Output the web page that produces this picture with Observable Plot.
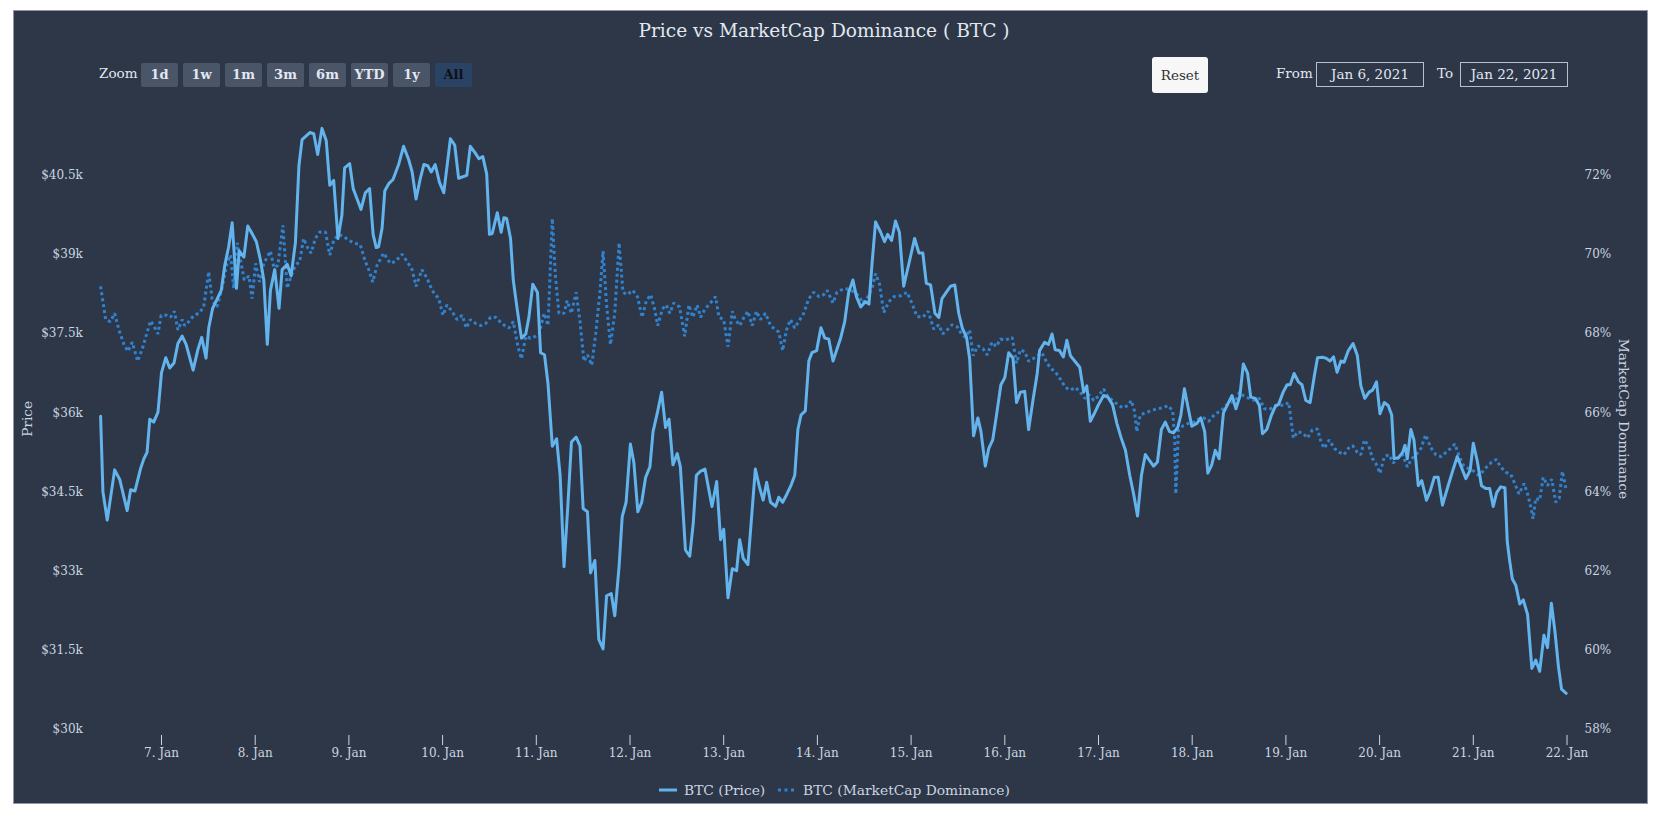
<!DOCTYPE html>
<html>
<head>
<meta charset="utf-8">
<script src="https://cdn.jsdelivr.net/npm/d3@7"></script>
<script src="https://cdn.jsdelivr.net/npm/@observablehq/plot@0.6"></script>
<style>
  html, body { margin: 0; padding: 0; background: #ffffff; }
  body { width: 1667px; height: 819px; position: relative; overflow: hidden; font-family: "DejaVu Serif", serif; }
  #panel { position: absolute; left: 14px; top: 11px; width: 1633px; height: 792px; background: #2d3748; box-shadow: 0 0 0 1px #8f98a8; }
  #title { position: absolute; left: 0; width: 1620px; top: 8px; text-align: center; font-size: 18.6px; color: #e2e8f0; line-height: 24px; }
  .lbl { position: absolute; color: #e2e8f0; font-size: 13.5px; line-height: 24px; }
  .btn { position: absolute; top: 52px; width: 37px; height: 24px; background: #4a5568; color: #e2e8f0; font-weight: bold; font-size: 13px; line-height: 24px; text-align: center; border-radius: 2px; }
  .btn.sel { background: #2a4365; color: #0d1117; }
  #reset { position: absolute; left: 1138px; top: 46px; width: 56px; height: 36px; background: #f7f7f7; border-radius: 3px; color: #333; font-size: 13.5px; line-height: 36px; text-align: center; }
  .box { position: absolute; top: 51px; width: 106px; height: 23px; border: 1px solid #b8bfca; color: #e2e8f0; font-size: 13.5px; line-height: 23px; text-align: center; }
  #chart { position: absolute; left: 0; top: 89px; }
  #legend { position: absolute; top: 767px; left: 0; width: 1633px; height: 24px; }
  .leg { position: absolute; top: 0; color: #cbd5e0; font-size: 13.8px; line-height: 24px; white-space: nowrap; }
</style>
</head>
<body>
<div id="panel">
  <div id="title">Price vs MarketCap Dominance ( BTC )</div>
  <div class="lbl" style="left:85px; top:50px;">Zoom</div>
  <div id="buttons"></div>
  <div id="reset">Reset</div>
  <div class="lbl" style="left:1262px; top:50px;">From</div>
  <div class="box" style="left:1302px;">Jan 6, 2021</div>
  <div class="lbl" style="left:1423px; top:50px;">To</div>
  <div class="box" style="left:1446px;">Jan 22, 2021</div>
  <div id="chart"></div>
  <div id="legend"></div>
</div>
<script>
// ---------------- data (hours since 6 Jan 2021 00:00 UTC) ----------------
const priceHours = [8.4,9.0,10.1,12.0,13.3,15.2,16.1,17.2,18.6,19.5,20.3,21.0,22.0,23.1,24.0,25.1,26.1,27.2,28.2,29.3,30.3,32.1,33.3,34.3,35.4,36.1,37.1,38.3,39.3,40.2,41.2,42.1,43.2,43.9,45.1,46.1,47.3,48.3,49.3,50.2,51.1,51.9,53.0,54.1,54.9,56.2,57.2,58.3,59.2,60.0,62.0,63.0,64.0,65.1,66.2,67.1,68.1,69.2,70.2,70.9,72.2,73.1,74.1,75.1,76.2,77.3,78.2,79.0,79.6,80.5,81.2,82.2,83.3,84.8,86.0,87.3,88.2,89.2,90.3,91.2,92.2,93.1,94.1,95.2,96.3,98.0,99.1,100.1,102.2,103.1,
104.2,105.3,106.3,107.3,108.0,108.7,110.0,111.0,111.7,112.4,113.4,114.1,115.1,116.2,117.3,118.1,119.1,120.3,121.1,122.1,123.0,124.1,125.2,126.1,127.1,128.1,129.0,130.2,131.2,132.0,133.1,133.9,135.0,136.0,137.1,138.0,139.2,140.1,141.2,142.0,143.0,144.1,145.0,146.0,147.0,148.0,149.1,149.9,151.0,152.1,153.1,154.0,155.0,156.1,156.9,158.2,159.3,160.2,161.0,162.1,163.2,164.2,165.0,166.2,167.2,168.0,169.1,170.2,171.3,172.1,173.0,174.2,176.1,177.2,178.1,179.0,180.0,181.3,182.1,183.1,184.2,185.3,186.2,187.0,187.8,188.9,189.8,190.6,191.8,192.9,193.9,194.9,196.0,197.9,
199.0,200.0,201.1,202.0,203.1,204.3,205.2,206.0,206.9,208.2,209.2,210.0,211.0,212.0,213.0,214.1,215.4,216.9,218.0,219.0,219.9,221.0,222.1,223.1,223.9,225.0,226.1,227.2,228.2,229.1,230.2,231.0,232.0,233.1,233.9,235.0,235.9,236.9,237.8,239.0,240.0,241.0,242.1,243.0,244.0,245.1,246.1,247.2,248.3,248.9,250.2,251.2,252.1,252.9,254.0,255.0,255.9,256.8,257.9,259.2,260.2,261.0,261.9,263.0,264.0,265.3,266.4,267.6,268.7,269.8,270.9,272.0,273.0,274.0,275.0,276.0,277.1,278.1,279.1,280.1,281.1,282.2,283.2,284.3,285.1,286.0,286.9,287.9,289.2,290.2,291.2,292.0,293.0,293.9,
294.9,296.0,297.3,298.2,299.2,300.2,301.1,302.2,303.0,304.2,305.2,306.0,307.1,308.3,309.4,310.1,311.3,312.3,313.1,314.1,315.2,316.1,317.1,318.2,319.3,320.1,321.4,322.2,323.3,324.2,325.1,326.1,326.9,328.0,329.2,330.3,331.2,332.2,333.3,334.2,335.2,336.1,337.2,338.2,339.1,339.7,340.8,341.9,342.5,343.1,344.0,344.8,345.9,346.8,348.0,348.9,350.0,351.0,352.1,353.4,354.7,355.9,357.0,358.1,359.2,360.0,361.0,362.1,363.2,364.2,365.1,366.0,367.0,368.1,368.7,369.3,370.0,370.9,371.9,372.8,373.9,375.0,376.0,377.0,378.1,379.0,380.0,380.9,381.8,382.6,383.8];
const priceValues = [35932,34500,33965,34917,34736,34146,34540,34516,34933,35130,35248,35877,35822,36011,36758,37042,36845,36940,37309,37451,37294,36806,37191,37427,37034,37608,37978,38159,38316,38788,39142,39599,38356,39064,38946,39536,39378,39237,38906,38513,37294,38316,38710,37978,38710,38812,38592,39221,40677,41172,41306,41283,40889,41385,41149,40307,40401,39300,39733,40637,40716,40244,40047,39851,40165,40244,39378,39127,39142,39496,40205,40338,40417,40716,41046,40795,40559,40047,40440,40700,40677,40559,40700,40362,40165,41188,41070,40440,40496,41046,
40936,40810,40850,40519,39378,39394,39787,39418,39693,39677,39300,38513,37962,37412,37490,37805,38434,38277,37136,37097,36546,35366,35507,34815,33084,34264,35444,35539,35366,34186,34123,32966,33202,31707,31526,32533,32573,32156,33084,34028,34304,35405,35051,34123,34304,34776,34973,35641,35995,36389,35720,35877,35012,35224,34973,33399,33281,33910,34815,34894,34933,34540,34225,34697,33595,33792,32494,33045,33006,33595,33241,33124,34933,34579,34343,34682,34304,34225,34398,34304,34461,34634,34815,35681,35956,36035,36979,37136,37176,37608,37412,37396,36979,37400,
37726,38277,38513,38198,38002,38104,38057,38828,39614,39418,39237,39378,39260,39630,39418,38395,38812,39300,39025,39025,38450,38419,37883,37805,38159,38277,38395,38419,37883,37608,37427,37018,35562,35901,35641,34988,35326,35484,35916,36530,36664,37136,37034,36192,36389,36404,35681,36231,36743,37176,37333,37294,37490,37191,37176,37057,37372,37081,36979,36861,36389,36507,35838,35995,36153,36326,36294,36153,35798,35523,35287,34815,34461,34044,34815,35208,35090,34988,35067,35681,35822,35641,35618,35720,35956,36452,36113,35744,35798,35901,35641,34854,35012,35287,
35130,35995,36192,36326,36074,36310,36924,36743,36294,36271,36137,35602,35681,35956,36137,36153,36389,36530,36530,36743,36585,36530,36231,36192,36703,37042,37050,37034,36979,37057,36766,36979,36955,37176,37309,37081,36507,36271,36389,36428,36585,35980,36192,36137,35956,35130,35146,35248,35382,35130,35681,35484,34618,34713,34343,34500,34776,34776,34249,34579,34894,35169,34957,34752,34910,35421,35090,34618,34563,34563,34225,34485,34595,34579,33556,33202,32848,32730,32376,32455,32179,31157,31314,31101,31786,31550,32392,31865,31196,30763,30685];

const domHours = [8.4,9.7,10.9,12.0,13.1,14.4,15.4,16.5,17.9,19.1,20.2,21.2,22.0,23.1,23.9,25.3,26.3,27.3,28.2,29.3,29.9,31.0,32.3,33.6,34.8,36.1,37.0,38.2,39.5,40.8,41.7,42.5,43.4,44.2,45.2,46.4,47.2,48.1,49.1,50.2,51.9,52.8,53.8,55.1,56.2,57.2,58.3,59.4,60.4,61.3,62.3,63.4,64.5,66.0,67.1,68.1,69.4,70.7,72.0,73.2,74.9,76.2,77.1,78.1,79.2,80.9,82.6,83.9,85.6,86.9,88.2,89.2,90.7,92.0,93.3,95.0,96.1,97.1,98.4,99.7,101.0,102.1,103.1,
104.5,105.8,107.0,108.3,109.6,110.7,111.9,113.0,114.1,115.3,116.2,117.3,118.5,119.8,120.7,122.0,123.0,124.1,124.9,125.8,127.1,127.9,129.0,130.2,131.2,132.2,133.1,134.2,135.2,136.3,137.1,138.0,139.0,140.1,141.2,142.2,143.3,144.7,145.9,147.1,148.2,149.3,150.3,151.1,152.3,153.3,154.2,155.2,156.7,158.0,159.1,160.1,161.2,162.1,163.2,164.2,165.9,166.8,168.0,169.1,170.2,171.0,172.1,173.2,174.2,175.3,176.4,177.4,178.7,180.0,181.3,182.1,183.1,184.1,185.1,186.2,187.2,188.5,189.8,191.1,192.4,193.6,194.5,196.0,197.0,197.9,
199.2,200.5,201.6,202.8,203.5,204.7,206.0,206.9,207.9,209.0,210.3,211.6,213.3,215.0,216.3,217.5,219.0,220.4,221.8,223.1,224.1,225.2,226.5,227.8,228.9,229.9,231.0,231.9,233.1,234.4,235.5,236.7,237.8,238.9,240.1,241.9,243.0,244.0,245.1,246.1,247.2,248.4,249.5,250.6,251.7,252.9,254.2,255.5,256.8,258.1,259.3,260.5,261.5,262.8,264.1,265.3,266.4,267.6,269.0,270.2,271.5,272.4,273.2,273.8,274.7,276.0,277.5,279.0,280.4,281.8,283.0,283.5,283.8,284.5,285.8,287.1,288.4,289.6,290.9,292.2,293.9,
295.4,296.6,297.9,299.2,300.1,301.3,302.6,303.9,305.2,306.5,307.7,309.0,310.3,311.6,312.7,313.3,313.9,315.0,316.3,317.5,318.8,320.1,321.0,321.8,323.1,324.4,325.7,326.9,328.0,329.1,330.3,331.2,332.1,333.2,334.2,335.0,336.1,337.2,338.4,339.5,340.6,341.9,343.1,344.2,345.3,346.6,347.8,349.1,350.4,351.7,353.0,354.2,355.3,356.4,357.6,358.9,360.2,361.3,362.5,363.6,364.7,365.9,367.0,368.3,369.6,370.4,371.7,373.0,373.9,374.7,375.3,376.0,377.0,377.9,379.0,380.1,381.1,382.0,382.8,383.7];
const domValues = [69.19,68.35,68.30,68.51,68.09,67.72,67.55,67.78,67.30,67.62,67.99,68.32,68.20,67.99,68.46,68.46,68.41,68.56,68.09,68.35,68.20,68.30,68.46,68.51,68.67,69.56,68.83,68.67,69.14,69.77,69.98,69.14,70.29,69.87,69.35,69.45,68.88,69.77,69.30,69.77,70.08,69.66,69.72,70.73,69.14,69.45,69.72,69.82,70.40,70.19,70.03,70.40,70.56,70.56,69.98,70.35,70.50,70.45,70.35,70.29,70.24,69.82,69.61,69.30,69.72,70.03,69.77,69.82,70.00,69.82,69.61,69.19,69.61,69.40,69.09,68.88,68.46,68.72,68.56,68.35,68.46,68.14,68.35,
68.25,68.20,68.25,68.41,68.41,68.30,68.20,68.14,68.30,67.67,67.36,67.93,67.88,67.93,67.99,68.51,68.20,70.90,69.45,68.51,68.51,68.83,68.51,69.04,68.30,67.30,67.46,67.20,67.99,69.04,70.08,68.72,67.72,68.51,70.29,69.04,68.98,69.09,68.93,68.41,68.83,68.98,68.62,68.20,68.62,68.72,68.51,68.77,68.67,67.93,68.72,68.41,68.72,68.41,68.62,68.72,68.93,68.41,68.35,67.67,68.56,68.35,68.20,68.41,68.56,68.20,68.56,68.35,68.51,68.20,68.09,68.04,67.57,68.09,68.35,68.14,68.30,68.51,68.88,69.04,68.93,68.98,69.09,68.77,69.04,69.09,
69.14,69.09,69.04,68.93,68.77,68.88,69.14,69.51,69.25,68.53,68.80,68.93,68.95,69.04,68.74,68.43,68.41,68.56,68.11,68.22,67.99,68.09,68.22,68.17,67.99,67.90,68.09,67.44,67.69,67.62,67.46,67.78,67.67,67.86,67.83,67.90,67.25,67.59,67.54,67.30,67.36,67.44,67.51,67.30,67.12,67.04,66.85,66.64,66.57,66.64,66.52,66.36,66.46,66.31,66.43,66.60,66.41,66.31,66.20,66.12,66.18,66.31,66.05,65.52,65.94,66.00,66.05,66.10,66.12,66.18,66.05,65.36,63.95,65.57,65.68,65.73,65.76,65.84,65.87,65.78,65.97,
66.05,66.18,66.26,66.31,66.52,66.41,66.36,66.31,66.36,66.10,66.08,66.15,66.20,66.18,66.26,65.84,65.36,65.52,65.49,65.36,65.57,65.59,65.26,65.10,65.31,65.10,65.00,64.94,65.10,65.17,65.00,64.94,65.31,65.17,64.84,64.73,64.47,64.89,64.94,64.73,64.84,64.94,64.63,64.84,64.94,65.10,65.44,65.12,64.94,64.89,65.00,65.10,65.21,64.89,64.65,64.58,64.52,64.42,64.52,64.65,64.75,64.82,64.63,64.50,64.44,64.26,63.95,64.21,63.95,63.63,63.32,63.84,63.79,64.37,64.16,64.32,63.74,63.84,64.52,64.10];

const priceTicks = [30000, 31500, 33000, 34500, 36000, 37500, 39000, 40500];
const domTicks = [58, 60, 62, 64, 66, 68, 70, 72];
const dayTicks = [7, 8, 9, 10, 11, 12, 13, 14, 15, 16, 17, 18, 19, 20, 21, 22];
const zoomButtons = ["1d", "1w", "1m", "3m", "6m", "YTD", "1y", "All"];
const seriesNames = ["BTC (Price)", "BTC (MarketCap Dominance)"];
const colors = { price: "#63b3ed", dom: "#3182ce", text: "#cbd5e0" };

// ---------------- helpers ----------------
const base = Date.UTC(2021, 0, 6);
const toDate = h => new Date(base + h * 3600e3);
const priceData = priceHours.map((h, i) => ({ t: toDate(h), v: priceValues[i] }));
const domData = domHours.map((h, i) => ({ t: toDate(h), v: domValues[i] }));
// secondary axis: 58% aligned with $30k, 2% per $1.5k
const domToY = d => 30000 + (d - 58) * 750;
const yToDom = y => 58 + (y - 30000) / 750;

// ---------------- buttons / legend (html chrome) ----------------
const btnWrap = document.getElementById("buttons");
zoomButtons.forEach((b, i) => {
  const el = document.createElement("div");
  el.className = "btn" + (b === "All" ? " sel" : "");
  el.style.left = (127 + i * 42) + "px";
  el.textContent = b;
  btnWrap.appendChild(el);
});
const legend = document.getElementById("legend");
legend.innerHTML = `
  <svg style="position:absolute;left:645px;top:0" width="20" height="24"><line x1="0" x2="18" y1="12" y2="12" stroke="${colors.price}" stroke-width="3"/></svg>
  <div class="leg" style="left:670px">${seriesNames[0]}</div>
  <svg style="position:absolute;left:764px;top:0" width="20" height="24"><line x1="0" x2="19" y1="12" y2="12" stroke="${colors.dom}" stroke-width="3" stroke-dasharray="3,3.5"/></svg>
  <div class="leg" style="left:789px">${seriesNames[1]}</div>`;

// ---------------- chart ----------------
const chart = Plot.plot({
  width: 1633,
  height: 680,
  marginLeft: 86.1,
  marginRight: 80.5,
  marginTop: 21.8,
  marginBottom: 45,
  style: { background: "transparent", color: colors.text, fontFamily: "DejaVu Serif", fontSize: "12px", overflow: "visible" },
  x: { type: "utc", domain: [toDate(priceHours[0]), new Date(Date.UTC(2021, 0, 22))] },
  y: { domain: [29886, 41500] },
  marks: [
    Plot.axisX({ ticks: dayTicks.map(d => new Date(Date.UTC(2021, 0, d))), tickFormat: d => `${d.getUTCDate()}. Jan`, tickSize: 10, tickPadding: 3, label: null, stroke: colors.text, fill: colors.text }),
    Plot.axisY({ anchor: "left", ticks: priceTicks, tickFormat: v => "$" + (v / 1000) + "k", tickSize: 0, tickPadding: 17.8, label: null, fill: colors.text }),
    Plot.axisY({ anchor: "right", ticks: domTicks.map(domToY), tickFormat: v => Math.round(yToDom(v)) + "%", tickSize: 0, tickPadding: 17.5, label: null, fill: colors.text }),
    Plot.text(["Price"], { frameAnchor: "left", dx: -73, dy: -10, rotate: -90, textAnchor: "middle", lineAnchor: "middle", fill: colors.text, fontSize: 13.7 }),
    Plot.text(["MarketCap Dominance"], { frameAnchor: "right", dx: 56, dy: -10, rotate: 90, textAnchor: "middle", lineAnchor: "middle", fill: colors.text, fontSize: 13.7 }),
    Plot.line(domData, { x: "t", y: d => domToY(d.v), stroke: colors.dom, strokeWidth: 3, strokeDasharray: "3,3", strokeLinecap: "butt", strokeLinejoin: "miter" }),
    Plot.line(priceData, { x: "t", y: "v", stroke: colors.price, strokeWidth: 3 })
  ]
});
document.getElementById("chart").appendChild(chart);
</script>
</body>
</html>
